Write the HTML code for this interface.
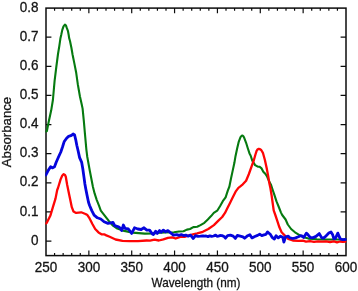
<!DOCTYPE html>
<html><head><meta charset="utf-8"><title>Absorbance spectrum</title>
<style>html,body{margin:0;padding:0;background:#fff}body{width:358px;height:291px;overflow:hidden}</style>
</head><body>
<svg width="358" height="291" viewBox="0 0 358 291" style="display:block">
<rect width="358" height="291" fill="#fff"/>
<g stroke="#0c0c0c" stroke-width="1.5" fill="none" stroke-linecap="butt">
<rect x="46.0" y="8.1" width="300.0" height="247.5"/>
<path d="M54.57,255.6v-2.6 M54.57,8.1v2.6 M63.14,255.6v-2.6 M63.14,8.1v2.6 M71.71,255.6v-2.6 M71.71,8.1v2.6 M80.29,255.6v-2.6 M80.29,8.1v2.6 M88.86,255.6v-5.2 M88.86,8.1v5.2 M97.43,255.6v-2.6 M97.43,8.1v2.6 M106.00,255.6v-2.6 M106.00,8.1v2.6 M114.57,255.6v-2.6 M114.57,8.1v2.6 M123.14,255.6v-2.6 M123.14,8.1v2.6 M131.71,255.6v-5.2 M131.71,8.1v5.2 M140.29,255.6v-2.6 M140.29,8.1v2.6 M148.86,255.6v-2.6 M148.86,8.1v2.6 M157.43,255.6v-2.6 M157.43,8.1v2.6 M166.00,255.6v-2.6 M166.00,8.1v2.6 M174.57,255.6v-5.2 M174.57,8.1v5.2 M183.14,255.6v-2.6 M183.14,8.1v2.6 M191.71,255.6v-2.6 M191.71,8.1v2.6 M200.29,255.6v-2.6 M200.29,8.1v2.6 M208.86,255.6v-2.6 M208.86,8.1v2.6 M217.43,255.6v-5.2 M217.43,8.1v5.2 M226.00,255.6v-2.6 M226.00,8.1v2.6 M234.57,255.6v-2.6 M234.57,8.1v2.6 M243.14,255.6v-2.6 M243.14,8.1v2.6 M251.71,255.6v-2.6 M251.71,8.1v2.6 M260.29,255.6v-5.2 M260.29,8.1v5.2 M268.86,255.6v-2.6 M268.86,8.1v2.6 M277.43,255.6v-2.6 M277.43,8.1v2.6 M286.00,255.6v-2.6 M286.00,8.1v2.6 M294.57,255.6v-2.6 M294.57,8.1v2.6 M303.14,255.6v-5.2 M303.14,8.1v5.2 M311.71,255.6v-2.6 M311.71,8.1v2.6 M320.29,255.6v-2.6 M320.29,8.1v2.6 M328.86,255.6v-2.6 M328.86,8.1v2.6 M337.43,255.6v-2.6 M337.43,8.1v2.6 M46.0,241.04h5.4 M346.0,241.04h-5.4 M46.0,211.92h5.4 M346.0,211.92h-5.4 M46.0,182.81h5.4 M346.0,182.81h-5.4 M46.0,153.69h5.4 M346.0,153.69h-5.4 M46.0,124.57h5.4 M346.0,124.57h-5.4 M46.0,95.45h5.4 M346.0,95.45h-5.4 M46.0,66.34h5.4 M346.0,66.34h-5.4 M46.0,37.22h5.4 M346.0,37.22h-5.4" stroke-width="1.2"/>
</g>
<clipPath id="pa"><rect x="45.3" y="8.1" width="301.4" height="247.5"/></clipPath>
<g fill="none" stroke-linejoin="round" stroke-linecap="round" clip-path="url(#pa)">
<path d="M46.0,131.5 L46.9,131.0 L48.6,122.3 L51.2,110.3 L52.9,100.0 L54.6,80.8 L56.3,67.0 L58.0,54.0 L59.3,46.1 L60.5,37.9 L61.2,35.0 L62.3,29.9 L63.5,26.3 L64.9,24.6 L66.0,25.6 L66.6,27.4 L67.9,30.8 L68.7,35.0 L69.1,37.9 L70.0,41.0 L71.4,47.8 L72.6,54.7 L74.4,63.6 L76.1,72.2 L77.8,84.2 L79.9,96.2 L81.8,104.8 L82.6,108.6 L83.8,120.6 L85.0,134.4 L86.4,149.8 L87.3,157.0 L89.8,170.8 L91.6,180.0 L92.9,186.7 L94.6,193.4 L96.8,200.1 L99.0,205.6 L100.8,210.6 L104.7,215.6 L108.6,220.6 L113.0,225.7 L117.3,228.6 L124.2,230.9 L132.8,232.6 L144.8,233.6 L153.4,233.4 L160.0,232.8 L165.0,232.5 L174.0,232.2 L179.0,231.5 L183.5,231.2 L186.9,229.6 L190.0,229.0 L193.3,227.1 L197.2,226.7 L200.5,225.1 L204.4,222.8 L207.8,219.5 L211.1,216.1 L213.8,212.9 L217.2,210.7 L220.0,206.2 L222.8,201.2 L225.6,197.3 L227.8,190.6 L229.4,186.5 L231.0,178.5 L232.7,170.6 L234.4,162.8 L235.5,156.2 L237.2,148.3 L238.8,141.6 L240.5,137.2 L241.6,135.8 L242.5,135.5 L243.4,136.3 L244.4,138.3 L246.1,142.8 L247.8,148.3 L249.5,153.4 L250.6,155.5 L252.3,160.6 L255.1,165.1 L257.8,166.7 L259.4,166.7 L261.6,168.4 L263.3,171.7 L265.5,174.0 L267.2,176.8 L268.8,180.7 L271.1,185.1 L272.4,189.0 L274.3,194.7 L276.5,201.4 L278.8,207.0 L281.0,212.6 L282.2,215.0 L285.6,219.5 L287.8,224.5 L291.1,229.0 L295.0,232.3 L299.5,235.1 L303.0,237.0 L308.4,238.6 L317.0,239.3 L322.0,239.5 L335.0,239.5 L345.5,239.5" stroke="#067a10" stroke-width="2.1"/>
<path d="M46.0,223.5 L46.9,222.6 L50.3,215.8 L52.9,207.2 L55.5,198.6 L57.2,190.0 L58.0,188.0 L60.6,179.4 L62.3,175.5 L63.7,174.2 L65.0,175.0 L65.8,176.8 L67.1,184.5 L69.2,194.8 L70.0,198.6 L71.8,207.2 L73.5,211.5 L76.1,212.9 L81.2,212.3 L85.5,214.0 L87.4,215.1 L89.6,218.4 L92.4,224.0 L95.2,229.0 L98.5,232.4 L101.9,234.4 L104.1,234.3 L106.3,235.4 L109.7,236.8 L115.6,239.5 L122.5,240.9 L129.4,241.2 L138.0,241.2 L146.5,240.5 L150.0,240.7 L154.5,239.6 L158.9,240.5 L163.4,239.4 L167.9,237.9 L172.3,237.3 L175.7,238.5 L180.2,236.8 L184.6,236.8 L188.0,235.7 L193.0,234.4 L197.2,233.4 L202.8,231.8 L208.3,229.0 L213.9,225.1 L218.4,220.6 L222.2,217.0 L225.0,212.9 L227.2,208.5 L230.0,202.9 L232.8,197.3 L235.6,191.7 L238.4,187.8 L240.0,186.6 L242.8,184.3 L246.1,180.7 L248.9,174.0 L251.7,166.2 L253.9,160.0 L255.3,155.0 L256.7,150.6 L257.7,149.3 L258.7,148.9 L260.0,149.2 L261.2,150.0 L262.9,152.8 L264.0,156.7 L264.9,160.0 L266.6,167.8 L268.1,175.6 L269.4,183.5 L270.4,188.0 L271.5,194.7 L272.6,202.5 L273.7,210.3 L275.5,215.5 L277.2,220.6 L279.4,227.3 L281.6,232.3 L284.4,235.1 L288.3,239.0 L292.8,240.5 L298.4,240.9 L302.9,240.7 L306.0,241.6 L310.0,241.2 L314.0,241.8 L318.0,241.3 L322.0,241.7 L326.0,241.3 L330.0,242.0 L334.0,241.4 L337.0,242.4 L340.0,241.5 L343.0,241.9 L345.5,241.6" stroke="#ff0505" stroke-width="2.3"/>
<path d="M45.8,175.1 L48.4,170.1 L50.6,166.8 L52.3,167.9 L54.5,166.8 L56.2,162.3 L58.5,157.0 L60.8,152.0 L62.5,147.0 L64.1,141.8 L66.4,138.5 L68.6,136.3 L70.8,135.7 L72.0,135.0 L73.1,134.0 L74.6,135.0 L75.7,139.6 L76.8,145.2 L78.1,150.8 L79.6,157.6 L81.7,162.4 L82.8,168.8 L83.9,176.6 L84.9,184.0 L85.7,188.5 L87.1,195.6 L88.5,202.3 L89.6,205.5 L91.8,210.6 L94.1,215.1 L97.4,217.8 L100.8,219.0 L104.1,221.8 L108.0,223.4 L110.8,222.9 L113.0,222.3 L114.7,225.7 L118.6,226.8 L120.0,227.8 L121.7,230.6 L123.4,225.0 L125.0,228.4 L128.4,229.0 L131.7,233.4 L134.5,227.8 L137.9,229.0 L141.2,229.5 L144.0,227.8 L146.8,230.1 L149.6,230.1 L152.4,234.0 L153.4,234.6 L155.6,231.2 L157.3,233.4 L159.5,230.6 L161.2,232.3 L163.4,230.1 L165.6,231.8 L167.9,230.6 L170.7,232.9 L173.5,235.1 L176.8,234.6 L179.0,235.3 L181.3,234.6 L183.5,235.6 L185.8,235.1 L188.2,236.2 L190.5,235.1 L193.3,238.5 L195.5,235.7 L198.0,236.4 L200.5,236.2 L203.0,235.8 L205.0,236.2 L206.1,236.0 L208.0,236.6 L209.8,235.8 L211.7,236.4 L213.6,236.0 L215.6,235.1 L217.0,236.3 L218.4,236.2 L220.0,235.5 L222.0,235.6 L224.1,236.5 L225.5,238.2 L227.6,235.6 L230.4,235.1 L233.2,236.1 L235.3,238.4 L237.4,235.4 L240.2,236.1 L242.9,236.8 L244.6,238.2 L247.1,236.1 L249.9,234.7 L252.0,237.9 L254.8,236.5 L257.6,235.4 L259.7,234.2 L261.8,235.6 L263.9,234.9 L266.0,234.3 L267.6,231.9 L270.5,234.6 L272.1,237.3 L274.4,239.0 L276.1,235.7 L278.3,237.9 L280.5,236.2 L282.8,237.3 L283.9,242.2 L285.6,236.8 L288.3,236.2 L290.0,237.9 L292.8,238.5 L295.6,237.9 L298.4,236.8 L300.6,235.7 L302.0,235.9 L303.7,237.6 L306.5,233.1 L308.1,234.8 L310.4,237.6 L313.2,237.6 L316.0,236.4 L319.3,233.6 L321.6,237.6 L323.8,238.1 L326.0,235.9 L328.8,233.1 L331.0,232.0 L332.7,234.8 L333.8,238.7 L335.5,238.1 L337.8,233.1 L339.4,237.0 L340.5,239.2 L342.7,239.6 L345.5,239.5" stroke="#0505dc" stroke-width="2.8"/>
</g>
<g font-family="'Liberation Sans', Arial, sans-serif" fill="#151515" stroke="#151515" stroke-width="0.3">
<text transform="translate(46.0,272.1) scale(0.95,1)" font-size="14.2" text-anchor="middle">250</text>
<text transform="translate(88.9,272.1) scale(0.95,1)" font-size="14.2" text-anchor="middle">300</text>
<text transform="translate(131.7,272.1) scale(0.95,1)" font-size="14.2" text-anchor="middle">350</text>
<text transform="translate(174.6,272.1) scale(0.95,1)" font-size="14.2" text-anchor="middle">400</text>
<text transform="translate(217.4,272.1) scale(0.95,1)" font-size="14.2" text-anchor="middle">450</text>
<text transform="translate(260.3,272.1) scale(0.95,1)" font-size="14.2" text-anchor="middle">500</text>
<text transform="translate(303.1,272.1) scale(0.95,1)" font-size="14.2" text-anchor="middle">550</text>
<text transform="translate(346.0,272.1) scale(0.95,1)" font-size="14.2" text-anchor="middle">600</text>
<text transform="translate(38.6,244.6) scale(0.95,1)" font-size="14.2" text-anchor="end">0</text>
<text transform="translate(38.6,215.5) scale(0.95,1)" font-size="14.2" text-anchor="end">0.1</text>
<text transform="translate(38.6,186.4) scale(0.95,1)" font-size="14.2" text-anchor="end">0.2</text>
<text transform="translate(38.6,157.3) scale(0.95,1)" font-size="14.2" text-anchor="end">0.3</text>
<text transform="translate(38.6,128.2) scale(0.95,1)" font-size="14.2" text-anchor="end">0.4</text>
<text transform="translate(38.6,99.1) scale(0.95,1)" font-size="14.2" text-anchor="end">0.5</text>
<text transform="translate(38.6,69.9) scale(0.95,1)" font-size="14.2" text-anchor="end">0.6</text>
<text transform="translate(38.6,40.8) scale(0.95,1)" font-size="14.2" text-anchor="end">0.7</text>
<text transform="translate(38.6,11.7) scale(0.95,1)" font-size="14.2" text-anchor="end">0.8</text>
<text transform="translate(196,287.4) scale(0.89,1)" font-size="13.2" text-anchor="middle">Wavelength (nm)</text>
<text transform="translate(10.5,132) scale(0.95,1) rotate(-90)" font-size="13.2" text-anchor="middle">Absorbance</text>
</g>
</svg>
</body></html>
